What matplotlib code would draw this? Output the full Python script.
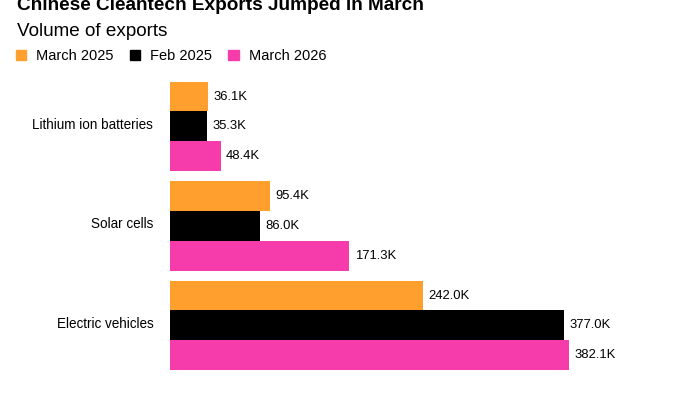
import numpy as np
import matplotlib
matplotlib.use("Agg")
import matplotlib.pyplot as plt
from matplotlib.patches import Patch

plt.rcParams['font.family'] = ['Liberation Sans', 'DejaVu Sans']

categories = ['Lithium ion batteries', 'Solar cells', 'Electric vehicles']
series_names = ['March 2025', 'Feb 2025', 'March 2026']
march_2025 = [36.1, 95.4, 242.0]
feb_2025 = [35.3, 86.0, 377.0]
march_2026 = [48.4, 171.3, 382.1]
colors = ['#FF9F2E', '#000000', '#F63BAA']

W, H = 698, 393
fig = plt.figure(figsize=(W / 100, H / 100), dpi=100)
# axes placed in pixel terms: bars start at x=170, span y 82..370
ax = fig.add_axes([170 / W, (H - 370) / H, 520 / W, 288.3 / H])

pitch = 3.34
base = np.arange(len(categories)) * pitch
for i, (vals, name) in enumerate(zip([march_2025, feb_2025, march_2026], series_names)):
    bars = ax.barh(base + i, vals, height=1.0, color=colors[i], label=name)
    ax.bar_label(bars, labels=[f'{v:.1f}K' for v in vals], padding=4, fontsize=9.4)

ax.set_xlim(0, 520 / 1.045)
ax.set_ylim(base[-1] + 2.5, -0.5)
ax.set_yticks(base + 0.9)
ax.set_yticklabels(categories, fontsize=9.75)
ax.tick_params(axis='y', length=0, pad=12)
ax.set_xticks([])
for s in ax.spines.values():
    s.set_visible(False)

fig.text(17 / W, 1 - 10 / H, 'Chinese Cleantech Exports Jumped in March',
         fontsize=13.7, fontweight='bold', va='baseline', ha='left')
fig.text(17 / W, 1 - 36 / H, 'Volume of exports', fontsize=13.6, va='baseline', ha='left')

handles = [Patch(color=c) for c in colors]
fig.legend(handles, series_names, loc='upper left', bbox_to_anchor=(16 / W, 1 - 49 / H),
           ncol=3, frameon=False, fontsize=10.5, handlelength=0.7, handleheight=0.7,
           handletextpad=0.7, columnspacing=1.1, borderaxespad=0, borderpad=0)

fig.savefig('out.png', dpi=100)
